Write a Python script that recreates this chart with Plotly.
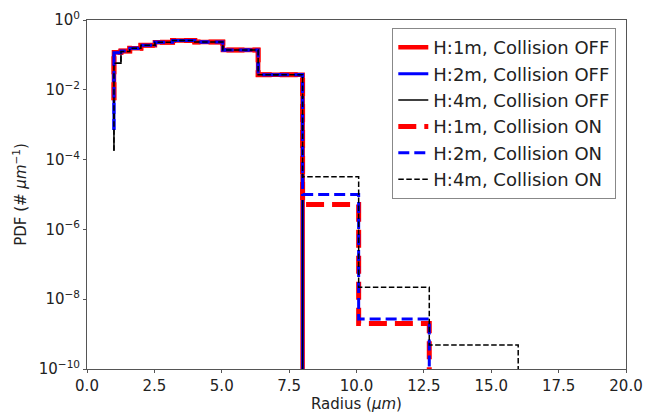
import plotly.graph_objects as go

# Bin edges (radius, um)
edges = [1.0, 1.26, 1.587, 2.0, 2.52, 3.175, 4.0, 5.04, 6.35, 8.0, 10.08, 12.7, 16.0]

# PDF values per bin
pdf_h1_off = [0.12, 0.13, 0.155, 0.19, 0.23, 0.26, 0.235, 0.138, 0.027]
pdf_h2_off = [0.115, 0.13, 0.155, 0.19, 0.23, 0.26, 0.235, 0.138, 0.027]
pdf_h4_off = [0.058, 0.125, 0.155, 0.19, 0.23, 0.26, 0.235, 0.138, 0.027]
pdf_h1_on = [0.12, 0.13, 0.155, 0.19, 0.23, 0.26, 0.235, 0.138, 0.027, 5.2e-6, 2.0e-9]
pdf_h2_on = [0.115, 0.13, 0.155, 0.19, 0.23, 0.26, 0.235, 0.138, 0.027, 1.0e-5, 2.7e-9]
pdf_h4_on = [0.058, 0.125, 0.155, 0.19, 0.23, 0.26, 0.235, 0.138, 0.027, 3.2e-5, 2.2e-8, 4.9e-10]

# value at the lower end of the first vertical segment
start_h1 = 5e-3
start_h2 = 7e-4
start_h4 = 1.8e-4
floor_val = 1e-14

ytick_vals = [1e0, 1e-2, 1e-4, 1e-6, 1e-8, 1e-10]
ytick_text = ["10<sup>0</sup>", "10<sup>\u22122</sup>", "10<sup>\u22124</sup>",
              "10<sup>\u22126</sup>", "10<sup>\u22128</sup>", "10<sup>\u221210</sup>"]
xtick_vals = [0, 2.5, 5, 7.5, 10, 12.5, 15, 17.5, 20]
xtick_text = ["0.0", "2.5", "5.0", "7.5", "10.0", "12.5", "15.0", "17.5", "20.0"]


def step_xy(vals, start):
    n = len(vals)
    xs = [edges[0]] + edges[:n + 1]
    ys = [start] + list(vals) + [floor_val]
    return xs, ys


series = [
    ("H:1m, Collision OFF", pdf_h1_off, start_h1, "red", 4.5, "solid"),
    ("H:2m, Collision OFF", pdf_h2_off, start_h2, "blue", 3, "solid"),
    ("H:4m, Collision OFF", pdf_h4_off, start_h4, "black", 1.5, "solid"),
    ("H:1m, Collision ON", pdf_h1_on, start_h1, "red", 5, "18px,8px"),
    ("H:2m, Collision ON", pdf_h2_on, start_h2, "blue", 3, "11px,5px"),
    ("H:4m, Collision ON", pdf_h4_on, start_h4, "black", 1.5, "5.5px,2.5px"),
]

fig = go.Figure()
for name, vals, start, color, width, dash in series:
    xs, ys = step_xy(vals, start)
    fig.add_trace(go.Scatter(x=xs, y=ys, mode="lines", name=name,
                             line=dict(color=color, width=width, dash=dash, shape="hv")))

font_family = "DejaVu Sans"
fig.update_layout(
    width=646, height=413,
    margin=dict(l=87, r=20, t=20, b=44),
    paper_bgcolor="white", plot_bgcolor="white",
    font=dict(family=font_family, size=15, color="#222"),
    showlegend=True,
    legend=dict(x=0.982, y=0.977, xanchor="right", yanchor="top",
                bordercolor="#888", borderwidth=1, bgcolor="rgba(255,255,255,0.9)",
                font=dict(size=18, family=font_family)),
)
fig.update_xaxes(range=[0, 20], tickvals=xtick_vals, ticktext=xtick_text, automargin=False,
                 showgrid=False, zeroline=False, showline=True, mirror=True,
                 linecolor="#555", linewidth=1, ticks="outside", ticklen=3, tickcolor="#555",
                 tickfont=dict(size=15),
                 title=dict(text="Radius (<i>\u03bcm</i>)", standoff=3, font=dict(size=15)))
fig.update_yaxes(type="log", range=[-10, 0], tickvals=ytick_vals, ticktext=ytick_text, automargin=False,
                 showgrid=False, zeroline=False, showline=True, mirror=True,
                 linecolor="#555", linewidth=1, ticks="outside", ticklen=3, tickcolor="#555",
                 tickfont=dict(size=15),
                 title=dict(text="PDF (# <i>\u03bcm</i><sup>\u22121</sup>)", standoff=8, font=dict(size=15)))

fig.write_html("out.html")
